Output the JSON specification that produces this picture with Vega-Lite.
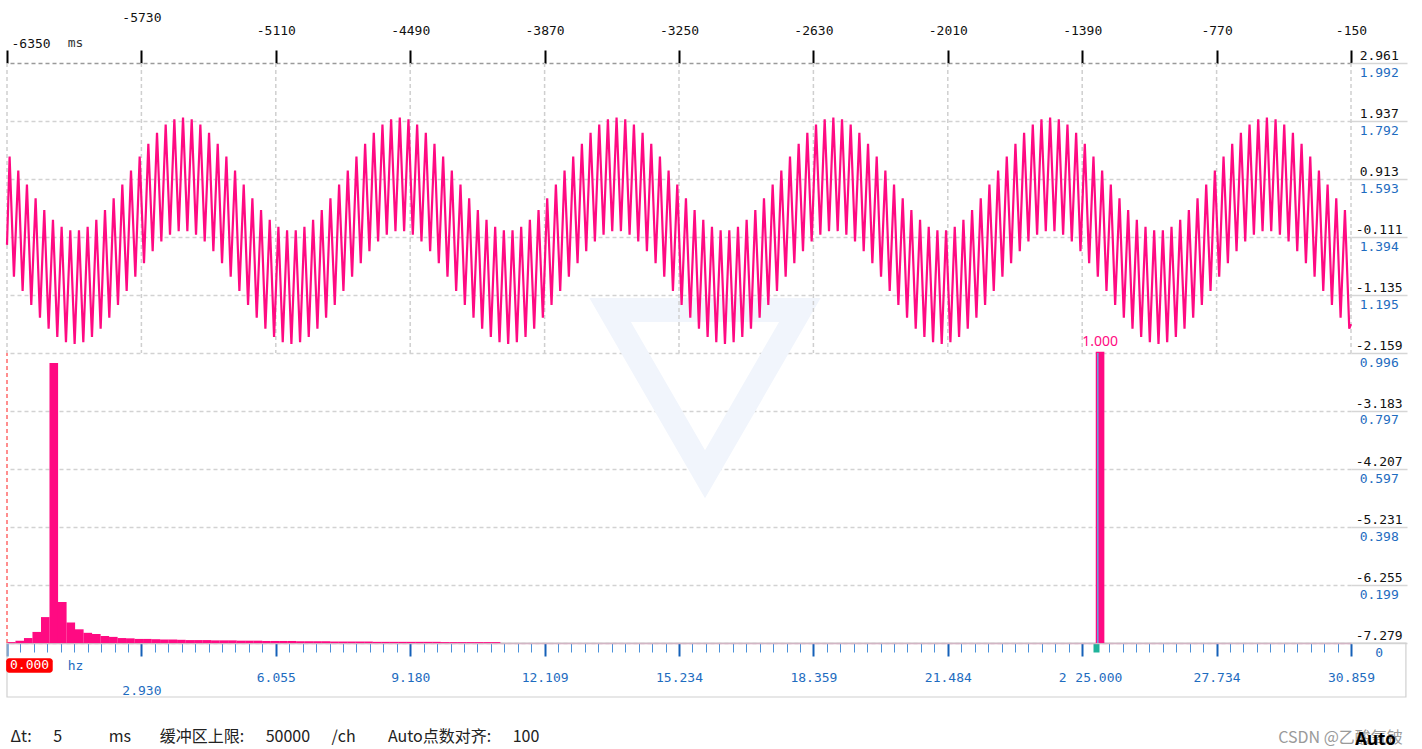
{
  "$schema": "https://vega.github.io/schema/vega-lite/v6.json",
  "width": 1344,
  "height": 580,
  "autosize": "none",
  "padding": {"left": 7, "top": 63, "right": 71, "bottom": 106},
  "background": "white",
  "config": {
    "view": {"stroke": null},
    "axis": {"labelFlush": false, "labelOverlap": false, "labelBound": false, "titlePadding": 0}
  },
  "title": {"text": "Auto", "orient": "bottom", "anchor": "end", "frame": "group", "offset": -13, "dx": 45, "font": "Noto Sans", "fontSize": 17, "fontWeight": "bold", "color": "#000"},
  "datasets": {
    "tt": [{"t":-6350},{"t":-5730},{"t":-5110},{"t":-4490},{"t":-3870},{"t":-3250},{"t":-2630},{"t":-2010},{"t":-1390},{"t":-770},{"t":-150}],
    "wave": [
      {"t":-6350,"v":-0.25},
      {"t":-6338,"v":1.309},{"t":-6318,"v":-0.813},{"t":-6298,"v":1.063},{"t":-6278,"v":-1.063},{"t":-6258,"v":0.813},{"t":-6238,"v":-1.309},{"t":-6218,"v":0.574},{"t":-6198,"v":-1.536},{"t":-6178,"v":0.363},{"t":-6158,"v":-1.729},
      {"t":-6138,"v":0.191},{"t":-6118,"v":-1.876},{"t":-6098,"v":0.07},{"t":-6078,"v":-1.969},{"t":-6058,"v":0.008},{"t":-6038,"v":-2},{"t":-6018,"v":0.008},{"t":-5998,"v":-1.969},{"t":-5978,"v":0.07},{"t":-5958,"v":-1.876},
      {"t":-5938,"v":0.191},{"t":-5918,"v":-1.729},{"t":-5898,"v":0.363},{"t":-5878,"v":-1.536},{"t":-5858,"v":0.574},{"t":-5838,"v":-1.309},{"t":-5818,"v":0.813},{"t":-5798,"v":-1.063},{"t":-5778,"v":1.063},{"t":-5758,"v":-0.813},
      {"t":-5738,"v":1.309},{"t":-5718,"v":-0.574},{"t":-5698,"v":1.536},{"t":-5678,"v":-0.363},{"t":-5658,"v":1.729},{"t":-5638,"v":-0.191},{"t":-5618,"v":1.876},{"t":-5598,"v":-0.07},{"t":-5578,"v":1.969},{"t":-5558,"v":-0.008},
      {"t":-5538,"v":2},{"t":-5518,"v":-0.008},{"t":-5498,"v":1.969},{"t":-5478,"v":-0.07},{"t":-5458,"v":1.876},{"t":-5438,"v":-0.191},{"t":-5418,"v":1.729},{"t":-5398,"v":-0.363},{"t":-5378,"v":1.536},{"t":-5358,"v":-0.574},
      {"t":-5338,"v":1.309},{"t":-5318,"v":-0.813},{"t":-5298,"v":1.063},{"t":-5278,"v":-1.063},{"t":-5258,"v":0.813},{"t":-5238,"v":-1.309},{"t":-5218,"v":0.574},{"t":-5198,"v":-1.536},{"t":-5178,"v":0.363},{"t":-5158,"v":-1.729},
      {"t":-5138,"v":0.191},{"t":-5118,"v":-1.876},{"t":-5098,"v":0.07},{"t":-5078,"v":-1.969},{"t":-5058,"v":0.008},{"t":-5038,"v":-2},{"t":-5018,"v":0.008},{"t":-4998,"v":-1.969},{"t":-4978,"v":0.07},{"t":-4958,"v":-1.876},
      {"t":-4938,"v":0.191},{"t":-4918,"v":-1.729},{"t":-4898,"v":0.363},{"t":-4878,"v":-1.536},{"t":-4858,"v":0.574},{"t":-4838,"v":-1.309},{"t":-4818,"v":0.813},{"t":-4798,"v":-1.063},{"t":-4778,"v":1.063},{"t":-4758,"v":-0.813},
      {"t":-4738,"v":1.309},{"t":-4718,"v":-0.574},{"t":-4698,"v":1.536},{"t":-4678,"v":-0.363},{"t":-4658,"v":1.729},{"t":-4638,"v":-0.191},{"t":-4618,"v":1.876},{"t":-4598,"v":-0.07},{"t":-4578,"v":1.969},{"t":-4558,"v":-0.008},
      {"t":-4538,"v":2},{"t":-4518,"v":-0.008},{"t":-4498,"v":1.969},{"t":-4478,"v":-0.07},{"t":-4458,"v":1.876},{"t":-4438,"v":-0.191},{"t":-4418,"v":1.729},{"t":-4398,"v":-0.363},{"t":-4378,"v":1.536},{"t":-4358,"v":-0.574},
      {"t":-4338,"v":1.309},{"t":-4318,"v":-0.813},{"t":-4298,"v":1.063},{"t":-4278,"v":-1.063},{"t":-4258,"v":0.813},{"t":-4238,"v":-1.309},{"t":-4218,"v":0.574},{"t":-4198,"v":-1.536},{"t":-4178,"v":0.363},{"t":-4158,"v":-1.729},
      {"t":-4138,"v":0.191},{"t":-4118,"v":-1.876},{"t":-4098,"v":0.07},{"t":-4078,"v":-1.969},{"t":-4058,"v":0.008},{"t":-4038,"v":-2},{"t":-4018,"v":0.008},{"t":-3998,"v":-1.969},{"t":-3978,"v":0.07},{"t":-3958,"v":-1.876},
      {"t":-3938,"v":0.191},{"t":-3918,"v":-1.729},{"t":-3898,"v":0.363},{"t":-3878,"v":-1.536},{"t":-3858,"v":0.574},{"t":-3838,"v":-1.309},{"t":-3818,"v":0.813},{"t":-3798,"v":-1.063},{"t":-3778,"v":1.063},{"t":-3758,"v":-0.813},
      {"t":-3738,"v":1.309},{"t":-3718,"v":-0.574},{"t":-3698,"v":1.536},{"t":-3678,"v":-0.363},{"t":-3658,"v":1.729},{"t":-3638,"v":-0.191},{"t":-3618,"v":1.876},{"t":-3598,"v":-0.07},{"t":-3578,"v":1.969},{"t":-3558,"v":-0.008},
      {"t":-3538,"v":2},{"t":-3518,"v":-0.008},{"t":-3498,"v":1.969},{"t":-3478,"v":-0.07},{"t":-3458,"v":1.876},{"t":-3438,"v":-0.191},{"t":-3418,"v":1.729},{"t":-3398,"v":-0.363},{"t":-3378,"v":1.536},{"t":-3358,"v":-0.574},
      {"t":-3338,"v":1.309},{"t":-3318,"v":-0.813},{"t":-3298,"v":1.063},{"t":-3278,"v":-1.063},{"t":-3258,"v":0.813},{"t":-3238,"v":-1.309},{"t":-3218,"v":0.574},{"t":-3198,"v":-1.536},{"t":-3178,"v":0.363},{"t":-3158,"v":-1.729},
      {"t":-3138,"v":0.191},{"t":-3118,"v":-1.876},{"t":-3098,"v":0.07},{"t":-3078,"v":-1.969},{"t":-3058,"v":0.008},{"t":-3038,"v":-2},{"t":-3018,"v":0.008},{"t":-2998,"v":-1.969},{"t":-2978,"v":0.07},{"t":-2958,"v":-1.876},
      {"t":-2938,"v":0.191},{"t":-2918,"v":-1.729},{"t":-2898,"v":0.363},{"t":-2878,"v":-1.536},{"t":-2858,"v":0.574},{"t":-2838,"v":-1.309},{"t":-2818,"v":0.813},{"t":-2798,"v":-1.063},{"t":-2778,"v":1.063},{"t":-2758,"v":-0.813},
      {"t":-2738,"v":1.309},{"t":-2718,"v":-0.574},{"t":-2698,"v":1.536},{"t":-2678,"v":-0.363},{"t":-2658,"v":1.729},{"t":-2638,"v":-0.191},{"t":-2618,"v":1.876},{"t":-2598,"v":-0.07},{"t":-2578,"v":1.969},{"t":-2558,"v":-0.008},
      {"t":-2538,"v":2},{"t":-2518,"v":-0.008},{"t":-2498,"v":1.969},{"t":-2478,"v":-0.07},{"t":-2458,"v":1.876},{"t":-2438,"v":-0.191},{"t":-2418,"v":1.729},{"t":-2398,"v":-0.363},{"t":-2378,"v":1.536},{"t":-2358,"v":-0.574},
      {"t":-2338,"v":1.309},{"t":-2318,"v":-0.813},{"t":-2298,"v":1.063},{"t":-2278,"v":-1.063},{"t":-2258,"v":0.813},{"t":-2238,"v":-1.309},{"t":-2218,"v":0.574},{"t":-2198,"v":-1.536},{"t":-2178,"v":0.363},{"t":-2158,"v":-1.729},
      {"t":-2138,"v":0.191},{"t":-2118,"v":-1.876},{"t":-2098,"v":0.07},{"t":-2078,"v":-1.969},{"t":-2058,"v":0.008},{"t":-2038,"v":-2},{"t":-2018,"v":0.008},{"t":-1998,"v":-1.969},{"t":-1978,"v":0.07},{"t":-1958,"v":-1.876},
      {"t":-1938,"v":0.191},{"t":-1918,"v":-1.729},{"t":-1898,"v":0.363},{"t":-1878,"v":-1.536},{"t":-1858,"v":0.574},{"t":-1838,"v":-1.309},{"t":-1818,"v":0.813},{"t":-1798,"v":-1.063},{"t":-1778,"v":1.063},{"t":-1758,"v":-0.813},
      {"t":-1738,"v":1.309},{"t":-1718,"v":-0.574},{"t":-1698,"v":1.536},{"t":-1678,"v":-0.363},{"t":-1658,"v":1.729},{"t":-1638,"v":-0.191},{"t":-1618,"v":1.876},{"t":-1598,"v":-0.07},{"t":-1578,"v":1.969},{"t":-1558,"v":-0.008},
      {"t":-1538,"v":2},{"t":-1518,"v":-0.008},{"t":-1498,"v":1.969},{"t":-1478,"v":-0.07},{"t":-1458,"v":1.876},{"t":-1438,"v":-0.191},{"t":-1418,"v":1.729},{"t":-1398,"v":-0.363},{"t":-1378,"v":1.536},{"t":-1358,"v":-0.574},
      {"t":-1338,"v":1.309},{"t":-1318,"v":-0.813},{"t":-1298,"v":1.063},{"t":-1278,"v":-1.063},{"t":-1258,"v":0.813},{"t":-1238,"v":-1.309},{"t":-1218,"v":0.574},{"t":-1198,"v":-1.536},{"t":-1178,"v":0.363},{"t":-1158,"v":-1.729},
      {"t":-1138,"v":0.191},{"t":-1118,"v":-1.876},{"t":-1098,"v":0.07},{"t":-1078,"v":-1.969},{"t":-1058,"v":0.008},{"t":-1038,"v":-2},{"t":-1018,"v":0.008},{"t":-998,"v":-1.969},{"t":-978,"v":0.07},{"t":-958,"v":-1.876},
      {"t":-938,"v":0.191},{"t":-918,"v":-1.729},{"t":-898,"v":0.363},{"t":-878,"v":-1.536},{"t":-858,"v":0.574},{"t":-838,"v":-1.309},{"t":-818,"v":0.813},{"t":-798,"v":-1.063},{"t":-778,"v":1.063},{"t":-758,"v":-0.813},
      {"t":-738,"v":1.309},{"t":-718,"v":-0.574},{"t":-698,"v":1.536},{"t":-678,"v":-0.363},{"t":-658,"v":1.729},{"t":-638,"v":-0.191},{"t":-618,"v":1.876},{"t":-598,"v":-0.07},{"t":-578,"v":1.969},{"t":-558,"v":-0.008},
      {"t":-538,"v":2},{"t":-518,"v":-0.008},{"t":-498,"v":1.969},{"t":-478,"v":-0.07},{"t":-458,"v":1.876},{"t":-438,"v":-0.191},{"t":-418,"v":1.729},{"t":-398,"v":-0.363},{"t":-378,"v":1.536},{"t":-358,"v":-0.574},
      {"t":-338,"v":1.309},{"t":-318,"v":-0.813},{"t":-298,"v":1.063},{"t":-278,"v":-1.063},{"t":-258,"v":0.813},{"t":-238,"v":-1.309},{"t":-218,"v":0.574},{"t":-198,"v":-1.536},{"t":-178,"v":0.363},{"t":-158,"v":-1.729},
      {"t":-150,"v":-1.65}
    ],
    "spec": [
      {"f":0,"a":0.003},{"f":0.1953,"a":0.008},{"f":0.3906,"a":0.017},{"f":0.5859,"a":0.038},{"f":0.7813,"a":0.089},{"f":0.9766,"a":0.962},{"f":1.1719,"a":0.141},{"f":1.3672,"a":0.07},{"f":1.5625,"a":0.047},{"f":1.7578,"a":0.035},
      {"f":1.9531,"a":0.031},{"f":2.1484,"a":0.024},{"f":2.3438,"a":0.021},{"f":2.5391,"a":0.017},{"f":2.7344,"a":0.016},{"f":2.9297,"a":0.014},{"f":3.125,"a":0.014},{"f":3.3203,"a":0.013},{"f":3.5156,"a":0.012},{"f":3.7109,"a":0.012},
      {"f":3.9063,"a":0.011},{"f":4.1016,"a":0.01},{"f":4.2969,"a":0.01},{"f":4.4922,"a":0.01},{"f":4.6875,"a":0.009},{"f":4.8828,"a":0.009},{"f":5.0781,"a":0.009},{"f":5.2734,"a":0.008},{"f":5.4688,"a":0.008},{"f":5.6641,"a":0.008},
      {"f":5.8594,"a":0.007},{"f":6.0547,"a":0.007},{"f":6.25,"a":0.007},{"f":6.4453,"a":0.007},{"f":6.6406,"a":0.006},{"f":6.8359,"a":0.006},{"f":7.0313,"a":0.006},{"f":7.2266,"a":0.006},{"f":7.4219,"a":0.005},{"f":7.6172,"a":0.005},
      {"f":7.8125,"a":0.005},{"f":8.0078,"a":0.005},{"f":8.2031,"a":0.005},{"f":8.3984,"a":0.004},{"f":8.5938,"a":0.004},{"f":8.7891,"a":0.004},{"f":8.9844,"a":0.004},{"f":9.1797,"a":0.004},{"f":9.375,"a":0.004},{"f":9.5703,"a":0.004},
      {"f":9.7656,"a":0.004},{"f":9.9609,"a":0.003},{"f":10.1563,"a":0.003},{"f":10.3516,"a":0.003},{"f":10.5469,"a":0.003},{"f":10.7422,"a":0.003},{"f":10.9375,"a":0.003},{"f":11.1328,"a":0.003},
      {"f":25,"a":1}
    ]
  },
  "layer": [
    {
      "layer": [
        {
          "data": {"values": [{}]},
          "mark": {"type": "point", "shape": "triangle-down", "filled": false, "size": 36000, "strokeWidth": 24, "color": "#f1f5fc", "opacity": 1},
          "encoding": {
            "x": {"datum": -3130, "type": "quantitative"},
            "y": {"datum": -2.85, "type": "quantitative"}
          }
        },
        {
          "data": {"name": "tt"},
          "mark": {"type": "rule", "color": "#cfcfcf", "strokeWidth": 1.5, "strokeDash": [4, 3]},
          "encoding": {
            "x": {"field": "t", "type": "quantitative"},
            "y": {"datum": 2.961, "type": "quantitative"},
            "y2": {"datum": -2.159}
          }
        },
        {
          "data": {"name": "wave"},
          "mark": {"type": "line", "color": "#ff0a82", "strokeWidth": 2.2},
          "encoding": {
            "x": {
              "field": "t", "type": "quantitative",
              "scale": {"domain": [-6350, -150], "nice": false, "zero": false, "padding": 0},
              "axis": {
                "orient": "top",
                "values": [-6350, -5730, -5110, -4490, -3870, -3250, -2630, -2010, -1390, -770, -150],
                "tickCount": 200,
                "labelExpr": "'' + datum.value",
                "grid": false, "domain": false,
                "tickSize": 13, "tickWidth": 2, "tickColor": "#000",
                "labelFont": "DejaVu Sans Mono", "labelFontSize": 13, "labelColor": "#111",
                "labelBaseline": "alphabetic",
                "labelAlign": {"condition": {"test": "datum.value == -6350", "value": "left"}, "value": "center"},
                "labelOffset": {"condition": {"test": "datum.value == -6350", "value": 4}, "value": 0},
                "labelPadding": {"condition": [{"test": "datum.value == -6350", "value": 3}, {"test": "datum.value == -5730", "value": 29}], "value": 16},
                "title": "ms", "titleX": 68, "titleY": -21, "titleAlign": "center", "titleBaseline": "middle", "titleAngle": 0,
                "titleFont": "DejaVu Sans Mono", "titleFontSize": 13, "titleFontWeight": "normal", "titleColor": "#333",
                "zindex": 0
              }
            },
            "y": {
              "field": "v", "type": "quantitative",
              "scale": {"domain": [-7.279, 2.961], "nice": false, "zero": false},
              "axis": {
                "orient": "right",
                "values": [2.961, 1.937, 0.913, -0.111, -1.135, -2.159, -3.183, -4.207, -5.231, -6.255, -7.279],
                "tickCount": 200,
                "labelExpr": "'' + datum.value",
                "grid": true, "gridDash": [4, 3], "gridWidth": 1.5,
                "gridColor": {"condition": {"test": "datum.value == 2.961", "value": "#9a9a9a"}, "value": "#d2d2d2"},
                "domain": false,
                "tickSize": 56, "tickColor": "#d6d6d6", "tickWidth": 1.5,
                "labelAlign": "center", "labelBaseline": "alphabetic", "labelOffset": -4, "labelPadding": -28.3,
                "labelFont": "DejaVu Sans Mono", "labelFontSize": 13, "labelColor": "#111",
                "title": "Δt:\u00a0\u00a0\u00a0\u00a0\u00a0\u00a05\u00a0\u00a0\u00a0\u00a0\u00a0\u00a0\u00a0\u00a0\u00a0\u00a0\u00a0\u00a0\u00a0ms\u00a0\u00a0\u00a0\u00a0\u00a0\u00a0\u00a0\u00a0缓冲区上限:\u00a0\u00a0\u00a0\u00a0\u00a0\u00a050000\u00a0\u00a0\u00a0\u00a0\u00a0\u00a0/ch\u00a0\u00a0\u00a0\u00a0\u00a0\u00a0\u00a0\u00a0\u00a0Auto点数对齐:\u00a0\u00a0\u00a0\u00a0\u00a0\u00a0100",
                "titleX": -1341, "titleY": 673, "titleAngle": 0, "titleAlign": "left", "titleBaseline": "middle",
                "titleFont": "Noto Sans CJK SC", "titleFontSize": 16, "titleFontWeight": "normal", "titleColor": "#222",
                "zindex": 0
              }
            }
          }
        }
      ]
    },
    {
      "layer": [
        {
          "data": {"values": [{}]},
          "mark": {"type": "rect", "fill": null, "fillOpacity": 0, "stroke": "#d0d0d0", "strokeWidth": 1.2},
          "encoding": {
            "x": {"datum": 0, "type": "quantitative"},
            "x2": {"datum": 32.12},
            "y": {"datum": 0, "type": "quantitative"},
            "y2": {"datum": -0.1855}
          }
        },
        {
          "data": {"name": "spec"},
          "mark": {"type": "bar", "orient": "vertical", "size": 8.6, "xOffset": 4.25, "color": "#ff0a82"},
          "encoding": {
            "x": {
              "field": "f", "type": "quantitative",
              "scale": {"domain": [0, 30.859375], "nice": false, "zero": false, "padding": 0},
              "axis": {
                "orient": "bottom",
                "values": [0,0.309,0.617,0.926,1.234,1.543,1.852,2.16,2.469,2.777,3.086,3.395,3.703,4.012,4.32,4.629,4.938,5.246,5.555,5.863,6.172,6.48,6.789,7.098,7.406,7.715,8.023,8.332,8.641,8.949,9.258,9.566,9.875,10.184,10.492,10.801,11.109,11.418,11.727,12.035,12.344,12.652,12.961,13.27,13.578,13.887,14.195,14.504,14.813,15.121,15.43,15.738,16.047,16.355,16.664,16.973,17.281,17.59,17.898,18.207,18.516,18.824,19.133,19.441,19.75,20.059,20.367,20.676,20.984,21.293,21.602,21.91,22.219,22.527,22.836,23.145,23.453,23.762,24.07,24.379,24.688,25,25.305,25.613,25.922,26.23,26.539,26.848,27.156,27.465,27.773,28.082,28.391,28.699,29.008,29.316,29.625,29.934,30.242,30.551,30.859],
                "tickCount": 500,
                "labelExpr": "datum.value == 25 ? '25.000' : (round(datum.value / 0.30859375) % 10 == 0 ? ['', '2.930', '6.055', '9.180', '12.109', '15.234', '18.359', '21.484', '2', '27.734', '30.859'][round(datum.value / 3.0859375)] : '')",
                "grid": false,
                "domain": true, "domainColor": "#d49ab8", "domainWidth": 1.5,
                "tickSize": {"condition": {"test": "datum.value != 25 && round(datum.value / 0.30859375) % 10 == 0", "value": 13}, "value": 9},
                "tickWidth": {"condition": [{"test": "datum.value == 25", "value": 6}, {"test": "round(datum.value / 0.30859375) % 10 == 0", "value": 2}], "value": 1},
                "tickColor": {"condition": [{"test": "datum.value == 25", "value": "#1fb39a"}, {"test": "round(datum.value / 0.30859375) % 10 == 0", "value": "#1560b8"}], "value": "#4a90d9"},
                "labelFont": "DejaVu Sans Mono", "labelFontSize": 13, "labelColor": "#1e6cc0",
                "labelBaseline": "alphabetic", "labelAlign": "center",
                "labelPadding": {"condition": [{"test": "round(datum.value / 0.30859375) == 10", "value": 38.7}, {"test": "datum.value == 25", "value": 29.7}], "value": 25.7},
                "labelOffset": {"condition": [{"test": "round(datum.value / 0.30859375) == 80", "value": -20}, {"test": "datum.value == 25", "value": 2.5}], "value": 0},
                "title": "hz", "titleX": 68, "titleY": 22, "titleAlign": "center", "titleBaseline": "middle", "titleAngle": 0,
                "titleFont": "DejaVu Sans Mono", "titleFontSize": 13, "titleFontWeight": "normal", "titleColor": "#1e6cc0",
                "zindex": 0
              }
            },
            "y": {
              "field": "a", "type": "quantitative",
              "scale": {"domain": [0, 1.99219], "nice": false},
              "axis": {
                "orient": "right",
                "values": [0, 0.199, 0.398, 0.597, 0.797, 0.996, 1.195, 1.394, 1.593, 1.792, 1.992],
                "tickCount": 200,
                "labelExpr": "'' + datum.value",
                "grid": false, "domain": false, "ticks": false, "tickSize": 0,
                "labelAlign": "center", "labelBaseline": "alphabetic", "labelOffset": 13, "labelPadding": 27.7,
                "labelFont": "DejaVu Sans Mono", "labelFontSize": 13, "labelColor": "#1e6cc0",
                "title": "CSDN @乙酸氧铍", "titleX": -11, "titleY": 674, "titleAngle": 0, "titleAlign": "center", "titleBaseline": "middle",
                "titleFont": "Noto Sans CJK SC", "titleFontSize": 16, "titleFontWeight": "normal", "titleColor": "#9a9a9a",
                "zindex": 0
              }
            }
          }
        },
        {
          "data": {"name": "spec"},
          "transform": [{"filter": "datum.a >= 1"}],
          "mark": {"type": "text", "dy": -10, "xOffset": 4.25, "baseline": "middle", "font": "Noto Sans", "fontSize": 14, "color": "#ff0a82"},
          "encoding": {
            "x": {"field": "f", "type": "quantitative"},
            "y": {"field": "a", "type": "quantitative"},
            "text": {"field": "a", "type": "quantitative", "format": ".3f"}
          }
        },
        {
          "data": {"values": [{}]},
          "mark": {"type": "rule", "color": "#ff6a6a", "strokeWidth": 1.5, "strokeDash": [4, 3]},
          "encoding": {
            "x": {"datum": 0, "type": "quantitative"},
            "y": {"datum": 0, "type": "quantitative"},
            "y2": {"datum": 0.996}
          }
        },
        {
          "data": {"values": [{}]},
          "mark": {"type": "rule", "color": "#62a8e4", "strokeWidth": 1.5, "xOffset": 2},
          "encoding": {
            "x": {"datum": 25, "type": "quantitative"},
            "y": {"datum": 0, "type": "quantitative"},
            "y2": {"datum": 0.996}
          }
        },
        {
          "data": {"values": [{}]},
          "mark": {"type": "rect", "color": "#ff0000", "cornerRadius": 3},
          "encoding": {
            "x": {"datum": -0.02, "type": "quantitative"},
            "x2": {"datum": 1.05},
            "y": {"datum": -0.0525, "type": "quantitative"},
            "y2": {"datum": -0.102}
          }
        },
        {
          "data": {"values": [{}]},
          "mark": {"type": "text", "align": "left", "dx": 3, "baseline": "middle", "font": "DejaVu Sans Mono", "fontSize": 13, "color": "#ffffff"},
          "encoding": {
            "x": {"datum": 0, "type": "quantitative"},
            "y": {"datum": -0.077, "type": "quantitative"},
            "text": {"value": "0.000"}
          }
        }
      ]
    }
  ],
  "resolve": {"scale": {"x": "independent", "y": "independent"}}
}
